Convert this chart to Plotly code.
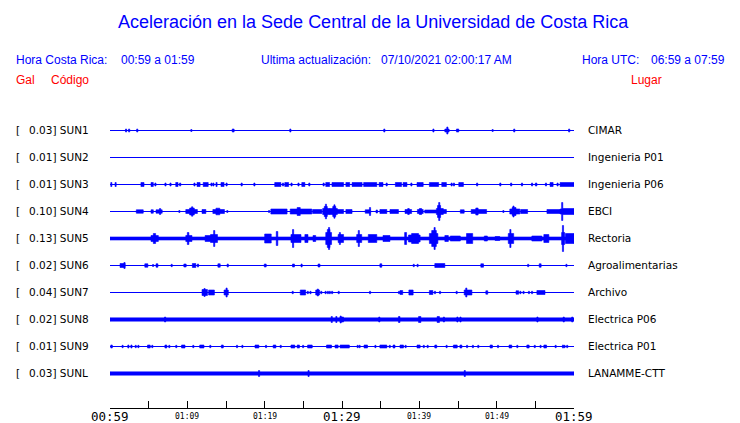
import plotly.graph_objects as go

# ---------------- data ----------------
STATIONS = ["SUN1", "SUN2", "SUN3", "SUN4", "SUN5", "SUN6", "SUN7", "SUN8", "SUN9", "SUNL"]
GAL = ["0.03", "0.01", "0.01", "0.10", "0.13", "0.02", "0.04", "0.02", "0.01", "0.03"]
PLACES = ["CIMAR", "Ingenieria P01", "Ingenieria P06", "EBCI", "Rectoria",
          "Agroalimentarias", "Archivo", "Electrica P06", "Electrica P01", "LANAMME-CTT"]
# background noise half-amplitude of each trace (display units, 27 = trace spacing)
BASE_AMP = [0, 0, 0, 0, 1.6, 0, 0, 1.7, 0, 1.7]

# minutes after 00:59
TICK_MIN = [0, 5, 10, 15, 20, 25, 30, 35, 40, 45, 50, 55, 60]
TICK_LABELS = ["00:59", "", "01:09", "", "01:19", "", "01:29", "", "01:39", "", "01:49", "", "01:59"]
MAJOR_LABELS = ["00:59", "01:29", "01:59"]

# bursts: [start min, end min, half amplitude]
SUN1 = [[2.0, 2.15, 1.5], [2.4, 2.55, 1.5], [3.45, 3.6, 1.5], [10.45, 10.6, 1.0], [15.8, 16.05, 1.5],
        [23.25, 23.4, 1.5], [35.4, 35.55, 1.5], [41.75, 41.9, 1.5], [43.3, 43.85, 1.5], [43.55, 43.7, 3.5],
        [44.8, 45.1, 1.5], [49.4, 49.55, 1.0], [52.2, 52.35, 1.5], [59.3, 59.45, 1.5]]
SUN2 = []
SUN3 = [[0.1, 0.25, 2], [0.65, 0.8, 2], [4.0, 4.4, 2], [5.3, 5.6, 2], [5.8, 5.95, 1.5], [7.1, 7.25, 1.5],
        [7.75, 7.9, 1.5], [8.5, 8.8, 2], [9.0, 9.15, 1.5], [10.85, 11.0, 1.5], [11.25, 11.65, 2],
        [12.05, 12.7, 2], [13.05, 13.2, 1.5], [13.3, 13.45, 1.5], [13.7, 13.85, 2], [14.35, 14.75, 2],
        [15.0, 15.15, 1.5], [16.95, 17.1, 1.5], [18.6, 18.75, 1.5], [21.3, 22.1, 2], [22.3, 22.45, 1.5],
        [22.6, 23.1, 2], [23.4, 23.55, 1.5], [24.3, 24.45, 1.5], [24.8, 25.2, 2], [25.7, 25.85, 1.5],
        [27.55, 27.7, 1.5], [27.9, 28.4, 2], [28.7, 30.2, 2], [30.5, 31.0, 2], [31.3, 32.6, 2],
        [32.8, 34.5, 2], [34.8, 35.3, 2], [35.7, 35.85, 1.5], [36.9, 37.7, 2], [37.9, 38.4, 2],
        [38.9, 39.05, 1.5], [39.7, 40.5, 2], [41.3, 42.5, 2], [42.9, 43.5, 2], [44.1, 44.25, 1.5],
        [44.4, 44.55, 1.5], [45.1, 45.7, 2], [47.4, 47.55, 1.5], [50.4, 50.55, 1.5], [51.8, 51.95, 1.5],
        [53.2, 53.35, 1.5], [54.5, 54.65, 1.5], [55.0, 55.2, 1.5], [56.3, 56.45, 1.5], [56.9, 57.3, 2],
        [57.8, 57.95, 1.5], [58.2, 60.0, 2]]
SUN4 = [[3.4, 4.3, 1.7], [5.3, 5.6, 1.7], [5.95, 6.75, 1.7], [6.4, 6.55, 3], [8.9, 9.05, 1.0],
        [9.8, 11.3, 2], [10.3, 10.9, 3.5], [10.55, 10.7, 4.7], [11.9, 12.4, 2], [13.3, 14.8, 2],
        [13.7, 14.2, 3.3], [15.1, 15.25, 1.0], [20.5, 20.65, 1], [20.8, 22.9, 2.5], [23.3, 26.1, 2.5],
        [24.2, 24.6, 4], [26.2, 27.4, 2], [27.5, 28.4, 3], [27.7, 28.1, 5], [27.85, 28.0, 7.3],
        [28.4, 29.4, 3], [28.8, 29.2, 5], [28.95, 29.1, 6.7], [29.4, 30.2, 2], [30.5, 31.3, 2],
        [33.0, 33.7, 1.7], [33.55, 33.7, 4], [34.4, 34.6, 1.5], [34.9, 35.8, 2], [36.2, 37.3, 2],
        [38.15, 39.0, 2], [38.5, 38.7, 3], [39.75, 40.5, 2], [40.0, 40.3, 3], [40.7, 42.2, 1.5],
        [42.2, 43.1, 3], [42.35, 42.75, 6], [42.5, 42.65, 9], [43.1, 43.5, 2], [45.3, 45.8, 1.7],
        [46.7, 48.7, 2], [47.3, 47.6, 3.5], [50.8, 50.95, 1], [51.7, 53.0, 2.5], [52.0, 52.5, 4],
        [52.1, 52.25, 5.5], [53.1, 54.0, 2], [56.5, 58.2, 2], [58.2, 58.6, 2.5], [58.4, 58.55, 9],
        [58.6, 60.0, 3]]
SUN5 = [[5.3, 6.25, 3], [5.6, 5.9, 5], [9.8, 10.6, 3], [10.0, 10.2, 6], [12.3, 13.0, 3], [13.0, 13.9, 4],
        [13.4, 13.55, 8], [20.0, 20.85, 4.5], [21.5, 21.7, 7], [23.4, 24.7, 4], [23.6, 23.75, 9],
        [25.2, 25.6, 4], [26.25, 26.6, 3], [27.9, 28.65, 6], [28.1, 28.45, 9], [28.25, 28.4, 11],
        [29.5, 30.2, 4], [29.65, 29.8, 6], [31.9, 32.55, 4], [32.1, 32.25, 8], [33.4, 34.5, 4],
        [35.3, 36.2, 3], [38.1, 38.35, 6], [38.6, 40.1, 3.5], [39.0, 39.9, 5], [41.3, 42.4, 5],
        [41.6, 42.2, 8], [41.9, 42.05, 11], [43.3, 43.75, 3], [44.0, 45.3, 2.5], [46.1, 46.9, 5],
        [48.4, 48.8, 2.5], [49.8, 50.4, 2], [51.5, 52.2, 5], [51.7, 51.85, 9], [54.55, 55.85, 2.5],
        [56.1, 56.75, 4], [58.4, 58.8, 6], [58.5, 58.65, 13], [58.9, 60.0, 5]]
SUN6 = [[1.3, 1.95, 2], [1.8, 1.95, 3], [4.5, 4.9, 1.7], [5.5, 5.65, 1], [5.95, 6.2, 1.7], [7.9, 8.05, 1.2],
        [9.55, 9.85, 1.5], [10.65, 11.1, 2], [11.3, 11.45, 1.5], [13.95, 14.25, 1.7], [15.15, 15.3, 1.5],
        [19.95, 20.2, 1.5], [23.6, 23.85, 1.5], [24.7, 24.85, 1.5], [26.9, 27.15, 1.5], [34.9, 35.15, 1.7],
        [39.2, 39.35, 1.2], [39.7, 39.85, 1.2], [42.0, 43.3, 2], [47.95, 48.3, 1.7], [54.0, 54.15, 1.2],
        [55.5, 55.75, 1.7], [58.95, 59.1, 1.2]]
SUN7 = [[11.9, 12.6, 3], [12.15, 12.3, 4], [12.75, 13.5, 2.5], [14.75, 15.3, 2.5], [15.0, 15.15, 4.5],
        [23.55, 23.7, 1.2], [24.6, 25.3, 2.5], [25.5, 25.65, 1.2], [25.85, 26.0, 1.2], [26.6, 27.1, 2.5],
        [26.8, 26.95, 3.5], [27.25, 27.4, 1.2], [27.8, 27.95, 1.2], [28.1, 28.25, 1.2], [28.35, 28.5, 1.2],
        [28.65, 28.8, 1.2], [29.5, 29.65, 1.2], [33.55, 33.7, 1.2], [37.3, 37.45, 1.2], [37.5, 37.85, 2],
        [38.65, 39.2, 2.5], [41.3, 41.75, 2], [41.95, 42.1, 1.2], [42.6, 42.75, 1.2], [44.75, 44.9, 1.2],
        [45.8, 46.8, 2.5], [46.0, 46.15, 4.5], [48.6, 48.85, 1.7], [52.5, 52.85, 1.7], [53.0, 53.15, 1.2],
        [53.4, 53.55, 1.2], [54.1, 54.25, 1.2], [54.5, 54.65, 1.2], [55.2, 56.25, 2]]
SUN8 = [[7.05, 7.2, 2.5], [28.6, 28.75, 3], [29.2, 29.35, 3], [29.75, 30.2, 2.5], [29.75, 29.9, 3.5],
        [34.75, 34.9, 2.5], [37.3, 37.5, 3], [39.9, 40.2, 3], [42.3, 42.6, 3], [43.1, 43.25, 2.5],
        [44.85, 45.0, 2.5], [45.25, 45.4, 2.5], [55.2, 55.35, 2.5], [58.6, 58.75, 2.5], [59.7, 59.85, 2.5]]
SUN9 = [[0.1, 0.3, 1.5], [1.55, 1.7, 1.2], [2.3, 2.45, 1.5], [2.7, 2.85, 1.5], [3.25, 3.4, 1.2],
        [3.6, 3.75, 1.2], [4.85, 5.2, 1.5], [5.4, 5.55, 1.2], [7.1, 7.35, 1.5], [7.6, 7.75, 1.2],
        [8.5, 8.65, 1.2], [9.25, 9.7, 1.5], [10.7, 10.85, 1.2], [11.6, 12.15, 1.5], [12.9, 13.05, 1.2],
        [14.4, 14.65, 1.5], [16.35, 16.5, 1.2], [17.05, 17.2, 1.2], [18.75, 19.25, 1.5], [20.1, 20.25, 1.2],
        [21.1, 21.45, 1.5], [22.0, 22.15, 1.2], [23.4, 23.9, 1.5], [24.2, 24.5, 1.5], [24.9, 25.05, 1.2],
        [25.55, 26.15, 1.5], [28.0, 28.65, 1.5], [29.1, 29.5, 1.5], [29.75, 30.95, 1.5], [31.95, 32.1, 1.2],
        [32.2, 32.35, 1.2], [32.85, 33.3, 1.5], [34.25, 34.4, 1.2], [34.9, 35.8, 1.5], [36.1, 36.25, 1.2],
        [36.6, 36.85, 1.5], [37.5, 37.95, 1.5], [38.15, 38.3, 1.2], [39.7, 40.1, 1.5], [40.5, 40.65, 1.2],
        [41.0, 41.15, 1.2], [42.0, 42.25, 1.5], [43.45, 43.6, 1.2], [44.4, 44.9, 1.5], [45.25, 45.5, 1.5],
        [46.1, 46.25, 1.2], [46.85, 47.0, 1.2], [47.55, 47.7, 1.2], [49.15, 49.45, 1.5], [50.1, 50.25, 1.2],
        [51.6, 51.95, 1.5], [52.6, 52.75, 1.2], [53.9, 54.2, 1.5], [54.85, 55.0, 1.2], [55.6, 55.75, 1.2],
        [56.1, 56.45, 1.5], [57.55, 57.7, 1.2], [58.5, 58.65, 1.5], [58.7, 58.85, 1.2], [59.05, 59.2, 1.2]]
SUNL = [[19.2, 19.35, 3], [25.6, 25.75, 3], [45.8, 45.95, 3]]

BURSTS = [SUN1, SUN2, SUN3, SUN4, SUN5, SUN6, SUN7, SUN8, SUN9, SUNL]
T_END = 60

# ---------------- figure ----------------
BLUE = "#0000FF"
RED = "#FF0000"
SPACING = 27.0  # display units per trace row
HALF_PX = 0.5 / SPACING  # centre traces on pixel rows for crisp 1px lines

# the page body has an 8px margin, so the figure is drawn 8px smaller
OFF = 8
W, H = 740 - OFF, 423 - OFF
L, R_EDGE = 110, 574       # plot area in window pixels
TOP, BOT = 118, 408
PW, PH = R_EDGE - L, BOT - TOP


def px_x(px):
    return (px - L) / PW


def px_y(py):
    return (BOT - py) / PH


def row_y(i):
    return 130 + 27 * i


fig = go.Figure()

for i, bursts in enumerate(BURSTS):
    c = -i - HALF_PX
    base = BASE_AMP[i]
    if base > 0:
        a = base / SPACING
        fig.add_trace(go.Scatter(x=[0, T_END, T_END, 0, 0], y=[c - a, c - a, c + a, c + a, c - a],
                                 mode="lines", fill="toself", fillcolor=BLUE,
                                 line=dict(color=BLUE, width=0.5), hoverinfo="skip"))
    else:
        fig.add_trace(go.Scatter(x=[0, T_END], y=[c, c], mode="lines",
                                 line=dict(color=BLUE, width=1.1), hoverinfo="skip"))
    xs, ys = [], []
    for t0, t1, amp in bursts:
        a = amp / SPACING
        xs += [t0, t1, t1, t0, t0, None]
        ys += [c - a, c - a, c + a, c + a, c - a, None]
    if xs:
        fig.add_trace(go.Scatter(x=xs, y=ys, mode="lines", fill="toself", fillcolor=BLUE,
                                 line=dict(color=BLUE, width=0.6), hoverinfo="skip"))

y_top = (row_y(0) - TOP) / SPACING
y_bot = -(9 + (BOT - row_y(9)) / SPACING)

annotations = []


def add_text(text, px, py, size, color="black", family="Liberation Sans, Arial, sans-serif",
             xanchor="left"):
    annotations.append(dict(text=text, x=px_x(px), y=px_y(py), xref="paper", yref="paper",
                            xanchor=xanchor, yanchor="middle", showarrow=False,
                            font=dict(size=size, color=color, family=family)))


# title and header
add_text("Aceleración en la Sede Central de la Universidad de Costa Rica", 373, 22, 18, BLUE,
         xanchor="center")
add_text("Hora Costa Rica:", 14, 60, 12, BLUE)
add_text("00:59 a 01:59", 119, 60, 12, BLUE)
add_text("Ultima actualización:", 259, 60, 12, BLUE)
add_text("07/10/2021 02:00:17 AM", 379, 60, 12, BLUE)
add_text("Hora UTC:", 580, 60, 12, BLUE)
add_text("06:59 a 07:59", 649, 60, 12, BLUE)
add_text("Gal", 14, 80, 12, RED)
add_text("Código", 49, 80, 12, RED)
add_text("Lugar", 629, 80, 12, RED)

# station labels
DV = "DejaVu Sans, sans-serif"
for i in range(len(STATIONS)):
    y = row_y(i)
    add_text("[", 14, y, 10.5, family=DV)
    add_text(f"{GAL[i]}] {STATIONS[i]}", 27, y, 10.5, family=DV)
    add_text(PLACES[i], 586, y, 10.5, family=DV)

# time tick labels
MONO = "DejaVu Sans Mono, monospace"
for t, lab in zip(TICK_MIN, TICK_LABELS):
    if not lab:
        continue
    big = lab in MAJOR_LABELS
    annotations.append(dict(text=lab, x=t, y=px_y(416), xref="x", yref="paper",
                            xanchor="center", yanchor="middle", showarrow=False,
                            font=dict(size=12.5 if big else 8, color="black", family=MONO)))

fig.update_layout(
    width=W, height=H,
    margin=dict(l=L - OFF, r=740 - R_EDGE, t=TOP - OFF, b=423 - BOT, pad=0),
    paper_bgcolor="white", plot_bgcolor="white",
    showlegend=False,
    annotations=annotations,
    xaxis=dict(range=[0, T_END], showgrid=False, zeroline=False, showline=True, linecolor="black",
               linewidth=1, ticks="inside", ticklen=7, tickcolor="black", tickwidth=1,
               tickvals=TICK_MIN, showticklabels=False, fixedrange=True),
    yaxis=dict(range=[y_bot, y_top], visible=False, fixedrange=True),
)

fig.write_html("out.html")
